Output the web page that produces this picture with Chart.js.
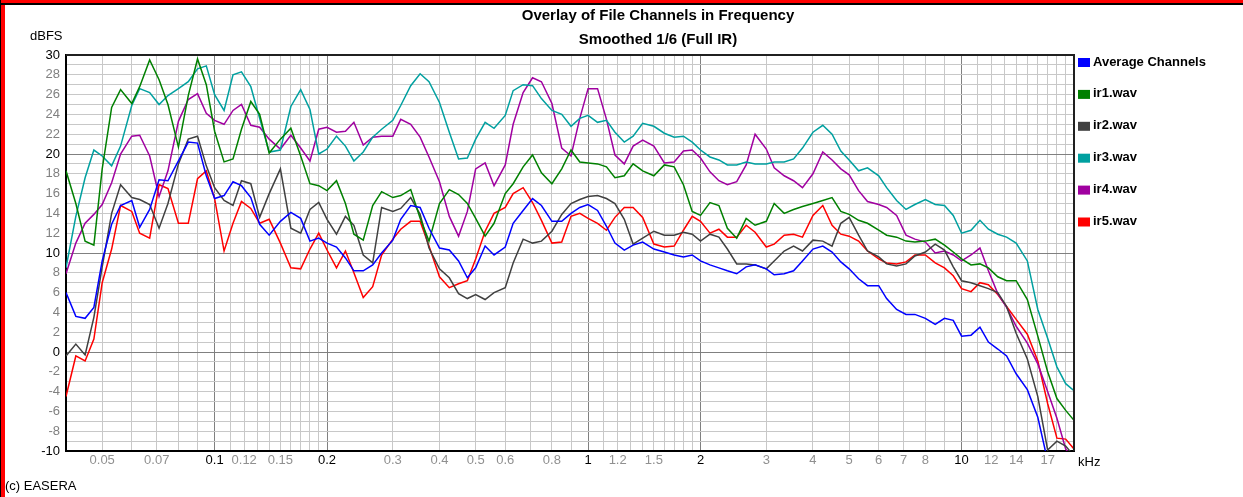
<!DOCTYPE html>
<html>
<head>
<meta charset="utf-8">
<style>
  html, body { margin: 0; padding: 0; background: #fff; }
  canvas { display: block; }
</style>
</head>
<body>
<canvas id="overlayChart" width="1243" height="497"></canvas>

<script src="https://cdn.jsdelivr.net/npm/chart.js"></script>
<script>
// frequencies in kHz
const freqs = [
  0.04, 0.0425, 0.045, 0.0475, 0.05, 0.053, 0.056, 0.06, 0.063, 0.067, 0.071, 0.075, 0.08, 0.085, 0.09, 0.095,
  0.1, 0.106, 0.112, 0.118, 0.125, 0.132, 0.14, 0.15, 0.16, 0.17, 0.18, 0.19, 0.2, 0.212, 0.224, 0.236, 0.25, 0.265, 0.28, 0.3,
  0.315, 0.335, 0.355, 0.375, 0.4, 0.425, 0.45, 0.475, 0.5, 0.53, 0.56, 0.6, 0.63, 0.67, 0.71, 0.75, 0.8, 0.85, 0.9, 0.95,
  1, 1.06, 1.12, 1.18, 1.25, 1.32, 1.4, 1.5, 1.6, 1.7, 1.8, 1.9, 2, 2.12, 2.24, 2.36, 2.5, 2.65, 2.8, 3,
  3.15, 3.35, 3.55, 3.75, 4, 4.25, 4.5, 4.75, 5, 5.3, 5.6, 6, 6.3, 6.7, 7.1, 7.5, 8, 8.5, 9, 9.5,
  10, 10.6, 11.2, 11.8, 12.5, 13.2, 14, 15, 16, 17, 18, 19, 20
];

const averageChannels = [
  6.0, 3.6, 3.4, 4.5, 9.2, 12.9, 14.8, 15.3, 12.6, 14.4, 17.4, 17.3, 19.3, 21.2, 21.1, 17.8,
  15.5, 15.8, 17.2, 16.8, 15.6, 12.9, 11.8, 13.2, 14.1, 13.5, 11.2, 11.5, 11.0, 10.6, 9.5, 8.2, 8.2, 8.8, 10.0, 11.3,
  13.4, 14.8, 14.6, 12.5, 10.5, 10.3, 9.2, 7.5, 8.5, 10.7, 9.8, 10.6, 13.0, 14.3, 15.5, 14.8, 13.2, 13.2, 14.0, 14.6,
  14.9, 14.3, 12.7, 11.0, 10.3, 10.8, 11.1, 10.4, 10.1, 9.8, 9.6, 9.8, 9.2, 8.8, 8.5, 8.2, 7.9, 8.6, 8.8, 8.4,
  7.8, 7.9, 8.2, 9.2, 10.4, 10.7, 10.1, 9.1, 8.4, 7.4, 6.7, 6.7, 5.4, 4.3, 3.8, 3.8, 3.4, 2.8, 3.4, 3.2,
  1.6, 1.7, 2.5, 1.0, 0.3, -0.4, -2.2, -3.8, -6.6, -11, null, null, null
];

const ir1 = [
  18.3, 15.0, 11.2, 10.8, 18.5, 24.7, 26.5, 25.1, 26.8, 29.5, 27.5, 25.0, 20.7, 25.9, 29.6, 27.0,
  22.3, 19.2, 19.5, 22.5, 25.3, 24.0, 20.1, 21.5, 22.6, 19.8, 17.0, 16.8, 16.3, 17.3, 15.0, 11.9, 11.3, 14.8, 16.2, 15.6,
  15.8, 16.4, 13.5, 11.2, 15.0, 16.4, 15.9, 15.0, 13.5, 11.7, 13.0, 16.0, 17.0, 18.7, 19.9, 18.1, 17.0, 18.5, 20.4, 19.2,
  19.1, 19.0, 18.7, 17.6, 17.8, 19.0, 18.3, 17.8, 18.9, 18.7, 16.9, 14.2, 13.8, 15.1, 14.8, 12.5, 11.5, 13.5, 12.8, 13.2,
  15.0, 14.0, 14.4, 14.7, 15.0, 15.3, 15.6, 14.2, 13.9, 13.3, 13.0, 12.3, 11.8, 11.6, 11.2, 11.1, 11.2, 11.4, 10.8, 10.1,
  9.4, 8.8, 8.9, 8.5, 7.6, 7.2, 7.2, 5.3, 1.6, -2.0, -4.7, -5.9, -6.9
];

const ir2 = [
  -0.4, 0.8, -0.3, 3.5, 8.6, 14.0, 16.9, 15.6, 15.4, 14.9, 12.5, 15.0, 19.0, 21.5, 21.8, 18.8,
  16.6, 15.3, 14.8, 17.3, 17.0, 13.6, 16.0, 18.5, 12.5, 12.0, 14.4, 15.1, 13.4, 11.9, 13.7, 12.8, 9.8, 9.0, 14.6, 14.2,
  14.5, 15.6, 13.9, 10.5, 8.4, 7.5, 5.9, 5.4, 5.8, 5.3, 6.0, 6.5, 9.0, 11.4, 11.0, 11.2, 12.2, 13.9, 15.0, 15.4,
  15.7, 15.8, 15.5, 15.0, 13.4, 10.9, 11.5, 12.2, 11.8, 11.8, 12.1, 11.9, 11.2, 11.9, 11.6, 10.4, 8.9, 8.9, 8.8, 8.4,
  9.2, 10.2, 10.7, 10.2, 11.3, 11.2, 10.7, 13.0, 13.6, 11.8, 10.2, 9.6, 8.9, 8.7, 8.9, 9.7, 10.1, 10.9, 10.3, 8.6,
  7.2, 7.0, 6.7, 6.4, 6.0, 4.6, 1.9, -0.7, -4.5, -9.9, -9.0, -9.5, -10.5
];

const ir3 = [
  8.5, 13.7, 17.6, 20.4, 19.8, 18.8, 20.8, 24.9, 26.6, 26.2, 25.0, 25.9, 26.6, 27.3, 28.6, 28.9,
  26.0, 24.4, 28.0, 28.3, 26.8, 23.6, 20.2, 20.4, 24.8, 26.5, 24.5, 20.0, 20.5, 21.8, 20.8, 19.3, 20.2, 21.7, 22.5, 23.4,
  24.9, 26.9, 28.1, 27.3, 25.2, 22.2, 19.5, 19.6, 21.5, 23.2, 22.6, 23.9, 26.4, 27.0, 26.9, 25.6, 24.4, 24.0, 22.8, 23.6,
  23.9, 23.2, 23.4, 22.2, 21.2, 21.8, 23.1, 22.8, 22.1, 21.7, 21.8, 21.2, 20.4, 19.7, 19.4, 18.9, 18.9, 19.2, 19.0, 19.0,
  19.2, 19.2, 19.5, 20.6, 22.2, 22.9, 22.0, 20.3, 19.4, 18.3, 18.6, 17.8, 16.6, 15.3, 14.4, 14.9, 15.4, 14.9, 14.8, 13.8,
  12.0, 12.3, 13.3, 12.4, 11.9, 11.6, 11.0, 9.2, 4.3, 1.4, -1.5, -3.2, -3.9
];

const ir4 = [
  7.9, 11.0, 13.0, 13.9, 14.9, 17.1, 20.0, 21.8, 21.9, 19.8, 15.7, 18.3, 23.3, 25.5, 26.1, 24.1,
  23.4, 23.0, 24.4, 25.0, 22.9, 22.7, 21.5, 20.5, 21.9, 20.6, 19.3, 22.5, 22.7, 22.2, 22.3, 23.2, 20.9, 21.7, 21.8, 21.8,
  23.5, 23.0, 21.7, 19.7, 17.2, 13.7, 11.7, 14.2, 18.5, 19.1, 16.8, 18.9, 23.0, 26.2, 27.7, 27.3, 25.1, 20.6, 19.8, 23.6,
  26.6, 26.6, 23.5, 19.9, 19.0, 20.8, 21.4, 20.8, 19.1, 19.2, 20.3, 20.4, 19.6, 18.2, 17.3, 16.9, 17.2, 18.9, 22.0, 20.5,
  18.6, 17.8, 17.3, 16.6, 18.0, 20.2, 19.4, 18.5, 17.9, 16.3, 15.2, 14.9, 14.6, 13.8, 11.8, 11.4, 11.1, 10.0, 10.2, 9.8,
  9.2, 9.8, 10.5, 8.2, 5.9, 4.5, 2.6, 0.9, -1.2, -4.0, -6.7, -9.8, -11
];

const ir5 = [
  -4.5, -0.4, -0.9, 1.3, 7.0, 10.4, 14.8, 14.2, 12.0, 11.5, 16.9, 16.5, 13.0, 13.0, 17.5, 18.3,
  15.5, 10.2, 13.0, 15.2, 14.5, 13.0, 13.4, 11.0, 8.5, 8.4, 10.4, 12.0, 10.3, 8.5, 10.2, 8.0, 5.5, 6.6, 9.8, 11.4,
  12.4, 13.2, 13.2, 10.7, 7.6, 6.5, 6.9, 7.2, 9.4, 12.2, 14.0, 14.6, 16.0, 16.6, 15.1, 13.3, 11.0, 11.1, 13.7, 14.0,
  13.5, 13.0, 12.3, 13.6, 14.6, 14.6, 13.6, 10.9, 10.6, 10.7, 12.3, 13.7, 13.2, 12.0, 12.4, 11.6, 11.6, 12.8, 12.1, 10.6,
  10.9, 11.8, 11.9, 11.6, 13.8, 14.8, 12.8, 11.9, 11.7, 11.2, 10.2, 9.4, 9.0, 8.9, 9.1, 9.8, 9.8, 9.0, 8.5, 7.7,
  6.4, 6.1, 7.0, 6.8, 5.8, 4.6, 3.3, 1.8, -0.9, -5.2, -8.7, -8.8, -9.8
];

const seriesNames = ['Average Channels', 'ir1.wav', 'ir2.wav', 'ir3.wav', 'ir4.wav', 'ir5.wav'];
const seriesValues = [averageChannels, ir1, ir2, ir3, ir4, ir5];
const seriesColors = ['#0000ff', '#008000', '#404040', '#00a0a0', '#a000a0', '#ff0000'];

const titleLines = ['Overlay of File Channels in Frequency', 'Smoothed 1/6 (Full IR)'];

// grid lines on the frequency axis, and which ones get a label
const xGridTicks = [
  0.04, 0.05, 0.06, 0.07, 0.08, 0.09,
  0.1, 0.11, 0.12, 0.13, 0.14, 0.15, 0.16, 0.17, 0.18, 0.19,
  0.2, 0.3, 0.4, 0.5, 0.6, 0.7, 0.8, 0.9,
  1, 1.1, 1.2, 1.3, 1.4, 1.5, 1.6, 1.7, 1.8, 1.9,
  2, 3, 4, 5, 6, 7, 8, 9,
  10, 11, 12, 13, 14, 15, 16, 17, 18, 19, 20
];
const xTickLabels = ['0.05', '0.07', '0.1', '0.12', '0.15', '0.2', '0.3', '0.4', '0.5', '0.6', '0.8',
  '1', '1.2', '1.5', '2', '3', '4', '5', '6', '7', '8', '10', '12', '14', '17'];
const xMajor = [0.1, 0.2, 1, 2, 10];

const yGridTicks = [-10, -9, -8, -7, -6, -5, -4, -3, -2, -1, 0, 1, 2, 3, 4, 5, 6, 7, 8, 9,
  10, 11, 12, 13, 14, 15, 16, 17, 18, 19, 20, 21, 22, 23, 24, 25, 26, 27, 28, 29, 30];

const FONT = '"Liberation Sans", Arial, sans-serif';

const framePlugin = {
  id: 'easeraFrame',
  afterDraw(chart) {
    const c = chart.ctx;
    const a = chart.chartArea;
    const W = chart.width, H = chart.height;
    c.save();

    // top and right edges of the plot box
    c.strokeStyle = '#202020';
    c.lineWidth = 2;
    c.beginPath();
    c.moveTo(a.left, a.top);
    c.lineTo(a.right, a.top);
    c.lineTo(a.right, a.bottom);
    c.stroke();

    c.fillStyle = '#000';
    c.textBaseline = 'middle';
    c.textAlign = 'center';
    c.font = 'bold 15px ' + FONT;
    c.fillText(titleLines[0], 658, 16);
    c.fillText(titleLines[1], 658, 40);

    c.textAlign = 'left';
    c.font = '13px ' + FONT;
    c.fillText('dBFS', 30, 36);
    c.fillText('kHz', 1078, 462);
    c.fillText('(c) EASERA', 5, 486);

    // legend
    c.font = 'bold 13px ' + FONT;
    seriesNames.forEach(function(name, i) {
      const y = 62 + i * 31.9;
      c.fillStyle = seriesColors[i];
      c.fillRect(1078, y - 4, 12, 9);
      c.fillStyle = '#000';
      c.fillText(name, 1093, y);
    });

    // window border
    c.fillStyle = '#ff0000';
    c.fillRect(0, 0, W, 3);
    c.fillRect(1, 0, 4, H);
    c.fillStyle = '#000';
    c.fillRect(0, 3, W, 2);
    c.fillRect(0, 0, 1, H);

    c.restore();
  }
};

const ctx = document.getElementById('overlayChart');

new Chart(ctx, {
  type: 'line',
  data: {
    datasets: seriesNames.map(function(name, i) {
      return {
        label: name,
        data: freqs.map(function(f, j) { return { x: f, y: seriesValues[i][j] }; }),
        borderColor: seriesColors[i],
        backgroundColor: seriesColors[i],
        borderWidth: 1.5,
        pointRadius: 0,
        tension: 0,
        spanGaps: false,
        clip: 0
      };
    })
  },
  options: {
    responsive: false,
    animation: false,
    devicePixelRatio: 1,
    layout: { padding: { top: 55, right: 169, bottom: 0, left: 0 } },
    plugins: {
      legend: { display: false },
      title: { display: false },
      tooltip: { enabled: false }
    },
    scales: {
      x: {
        type: 'logarithmic',
        min: 0.04,
        max: 20,
        afterBuildTicks: function(scale) {
          scale.ticks = xGridTicks.map(function(v) { return { value: v }; });
        },
        afterFit: function(scale) { scale.height = 46; },
        border: { color: '#000', width: 2 },
        grid: {
          drawTicks: false,
          lineWidth: 1,
          color: function(c) {
            return xMajor.includes(c.tick.value) ? '#808080' : '#c8c8c8';
          }
        },
        ticks: {
          autoSkip: false,
          maxRotation: 0,
          padding: 2,
          font: { family: FONT, size: 13 },
          color: function(c) {
            return xMajor.includes(c.tick.value) ? '#000' : '#909090';
          },
          callback: function(value) {
            return xTickLabels.includes(String(value)) ? String(value) : '';
          }
        }
      },
      y: {
        type: 'linear',
        min: -10,
        max: 30,
        afterBuildTicks: function(scale) {
          scale.ticks = yGridTicks.map(function(v) { return { value: v }; });
        },
        afterFit: function(scale) { scale.width = 66; },
        border: { color: '#000', width: 2 },
        grid: {
          drawTicks: false,
          lineWidth: 1,
          color: function(c) {
            return c.tick.value % 10 === 0 ? '#808080' : '#c8c8c8';
          }
        },
        ticks: {
          autoSkip: false,
          padding: 6,
          font: { family: FONT, size: 13 },
          color: function(c) {
            return c.tick.value % 10 === 0 ? '#000' : '#808080';
          },
          callback: function(value) {
            return value % 2 === 0 ? String(value) : '';
          }
        }
      }
    }
  },
  plugins: [framePlugin]
});
</script>
</body>
</html>
